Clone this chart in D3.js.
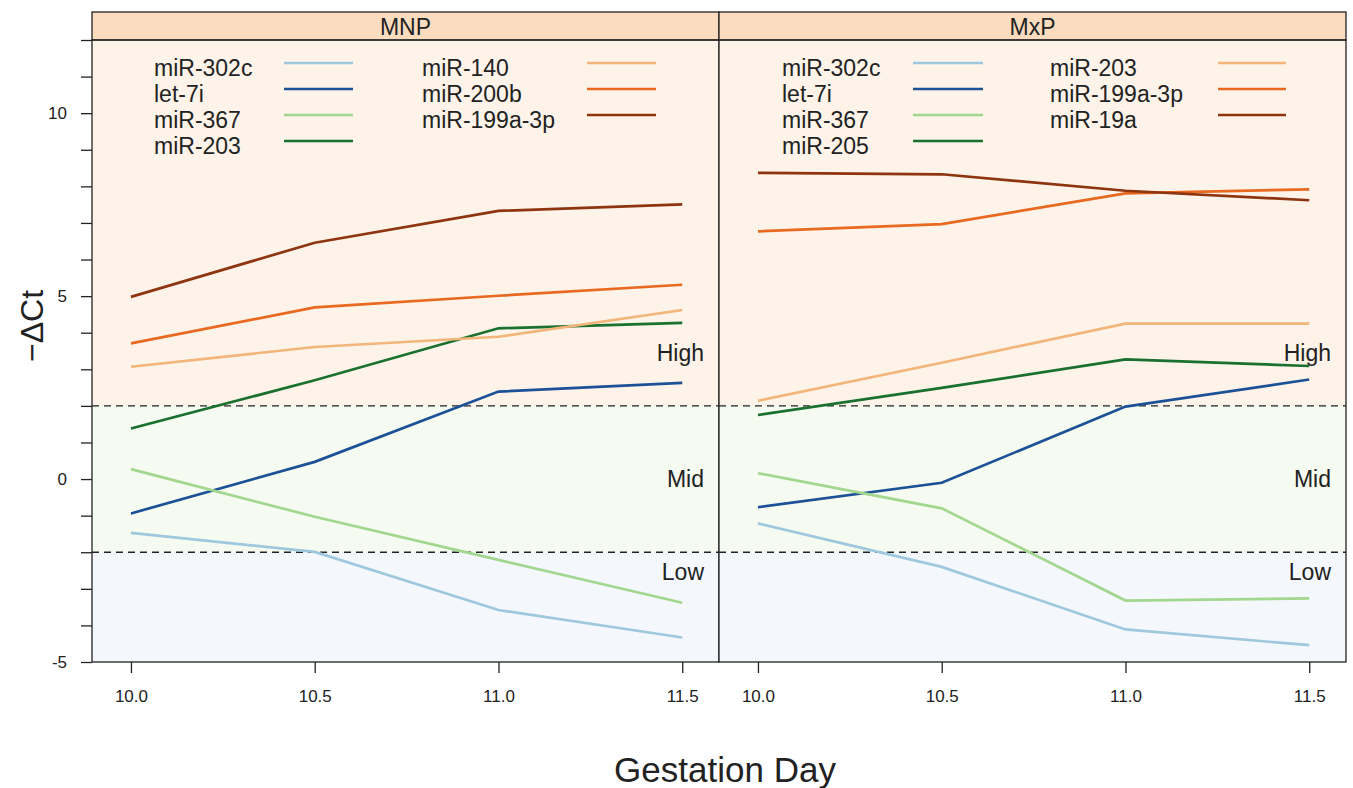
<!DOCTYPE html>
<html>
<head>
<meta charset="utf-8">
<script src="https://cdn.jsdelivr.net/npm/d3@7"></script>
<style>
  body { margin: 0; background: #fff; }
  svg { display: block; font-family: "Liberation Sans", Arial, sans-serif; }
</style>
</head>
<body>
<svg id="chart" width="1353" height="788"></svg>
<script>
// gestation days on the x axis
const days = [10.0, 10.5, 11.0, 11.5];

// panel names
const panels = ['MNP', 'MxP'];

// series per panel (-dCt at each day)
const mnpNames = ['miR-302c', 'let-7i', 'miR-367', 'miR-203', 'miR-140', 'miR-200b', 'miR-199a-3p'];
const mnpValues = [
  [-1.47, -1.99, -3.58, -4.33],
  [-0.94, 0.47, 2.39, 2.63],
  [0.27, -1.03, -2.21, -3.38],
  [1.38, 2.70, 4.12, 4.27],
  [3.07, 3.61, 3.89, 4.62],
  [3.71, 4.69, 5.01, 5.31],
  [4.98, 6.46, 7.33, 7.51]
];

const mxpNames = ['miR-302c', 'let-7i', 'miR-367', 'miR-205', 'miR-203', 'miR-199a-3p', 'miR-19a'];
const mxpValues = [
  [-1.21, -2.40, -4.11, -4.54],
  [-0.77, -0.10, 1.98, 2.72],
  [0.16, -0.80, -3.32, -3.26],
  [1.75, 2.49, 3.27, 3.09],
  [2.14, 3.18, 4.25, 4.25],
  [6.77, 6.97, 7.81, 7.92],
  [8.37, 8.33, 7.88, 7.62]
];

// same colour order in both panels
const seriesColors = ['#9fc8df', '#1d5197', '#a3d68f', '#19702f', '#f2b57a', '#e8691f', '#8e3510'];

// expression bands
const bandNames = ['High', 'Mid', 'Low'];
const bandEdges = [12, 2, -2, -5];
const bandColors = ['#fdf3e9', '#f5fbf0', '#f4f8fc'];

const yTicks = d3.range(-5, 13, 1);
const yLabels = [-5, 0, 5, 10];

const svg = d3.select('#chart');

const stripTop = 12;
const stripH = 28;
const plotTop = stripTop + stripH;
const plotBottom = 662;
const panelLeft = 92;
const panelW = 627;
const ink = '#222';

const y = d3.scaleLinear()
  .domain([-5, 12])
  .range([plotBottom, plotTop]);

const panelData = [
  { name: panels[0], names: mnpNames, values: mnpValues },
  { name: panels[1], names: mxpNames, values: mxpValues }
];

const line = d3.line()
  .x(d => d.x)
  .y(d => d.y);

panelData.forEach((p, pi) => {
  const x0 = panelLeft + pi * panelW;
  const x = d3.scaleLinear()
    .domain([9.894, 11.6])
    .range([x0, x0 + panelW]);

  const g = svg.append('g');

  // background bands
  bandNames.forEach((b, i) => {
    g.append('rect')
      .attr('x', x0)
      .attr('width', panelW)
      .attr('y', y(bandEdges[i]))
      .attr('height', y(bandEdges[i + 1]) - y(bandEdges[i]))
      .attr('fill', bandColors[i]);
  });

  // dashed band borders
  [bandEdges[1], bandEdges[2]].forEach(v => {
    g.append('line')
      .attr('x1', x0)
      .attr('x2', x0 + panelW)
      .attr('y1', y(v))
      .attr('y2', y(v))
      .attr('stroke', ink)
      .attr('stroke-width', 1.3)
      .attr('stroke-dasharray', '7,5');
  });

  // band labels on the right
  const bandLabelY = [bandEdges[1] + 1.45, 0, bandEdges[2] - 0.55];
  bandNames.forEach((b, i) => {
    g.append('text')
      .attr('x', x0 + panelW - 15)
      .attr('y', y(bandLabelY[i]))
      .attr('dy', '0.35em')
      .attr('text-anchor', 'end')
      .attr('font-size', 23)
      .attr('fill', ink)
      .text(b);
  });

  // series lines
  p.values.forEach((vals, si) => {
    const pts = vals.map((v, k) => ({ x: x(days[k]), y: y(v) }));
    g.append('path')
      .attr('d', line(pts))
      .attr('fill', 'none')
      .attr('stroke', seriesColors[si])
      .attr('stroke-width', 2.7);
  });

  // legend: two columns
  const legCols = pi === 0
    ? [{ tx: 154, lx: 284, lw: 69 }, { tx: 422, lx: 587, lw: 69 }]
    : [{ tx: 782, lx: 913, lw: 70 }, { tx: 1050, lx: 1218, lw: 68 }];
  p.names.forEach((n, si) => {
    const col = si < 4 ? 0 : 1;
    const row = si < 4 ? si : si - 4;
    const ly = 63 + row * 26;
    const c = legCols[col];
    g.append('text')
      .attr('x', c.tx)
      .attr('y', ly + 5)
      .attr('dy', '0.35em')
      .attr('font-size', 23)
      .attr('fill', ink)
      .text(n);
    g.append('line')
      .attr('x1', c.lx)
      .attr('x2', c.lx + c.lw)
      .attr('y1', ly)
      .attr('y2', ly)
      .attr('stroke', seriesColors[si])
      .attr('stroke-width', 2.7);
  });

  // strip
  g.append('rect')
    .attr('x', x0)
    .attr('y', stripTop)
    .attr('width', panelW)
    .attr('height', stripH)
    .attr('fill', '#fcdcbf')
    .attr('stroke', ink)
    .attr('stroke-width', 1.3);
  g.append('text')
    .attr('x', x0 + panelW / 2)
    .attr('y', stripTop + stripH / 2 + 1)
    .attr('dy', '0.35em')
    .attr('text-anchor', 'middle')
    .attr('font-size', 23)
    .attr('fill', ink)
    .text(p.name);

  // panel border
  g.append('rect')
    .attr('x', x0)
    .attr('y', plotTop)
    .attr('width', panelW)
    .attr('height', plotBottom - plotTop)
    .attr('fill', 'none')
    .attr('stroke', ink)
    .attr('stroke-width', 1.3);

  // x axis
  const xAxis = d3.axisBottom(x)
    .tickValues(days)
    .tickFormat(d3.format('.1f'))
    .tickSize(11);
  const ax = g.append('g')
    .attr('transform', `translate(0,${plotBottom})`)
    .call(xAxis);
  ax.select('.domain').remove();
  ax.selectAll('line').attr('stroke', ink).attr('stroke-width', 1.3);
  ax.selectAll('text')
    .attr('y', 34)
    .attr('dy', '0.35em')
    .attr('font-size', 17)
    .attr('fill', ink)
    .attr('font-family', '"Liberation Sans", Arial, sans-serif');
});

// y axis on the left panel
const yAxis = d3.axisLeft(y)
  .tickValues(yTicks)
  .tickFormat(d => yLabels.includes(d) ? d : '')
  .tickSize(11)
  .tickPadding(14);
const ay = svg.append('g')
  .attr('transform', `translate(${panelLeft},0)`)
  .call(yAxis);
ay.select('.domain').remove();
ay.selectAll('line').attr('stroke', ink).attr('stroke-width', 1.3);
ay.selectAll('text')
  .attr('font-size', 17)
  .attr('fill', ink)
  .attr('font-family', '"Liberation Sans", Arial, sans-serif');

// axis titles
svg.append('text')
  .attr('transform', 'translate(32,326) rotate(-90)')
  .attr('text-anchor', 'middle')
  .attr('dy', '0.35em')
  .attr('font-size', 32)
  .attr('fill', ink)
  .text('\u2212\u0394Ct');

svg.append('text')
  .attr('x', 725)
  .attr('y', 770)
  .attr('dy', '0.35em')
  .attr('text-anchor', 'middle')
  .attr('font-size', 35)
  .attr('fill', ink)
  .text('Gestation Day');
</script>
</body>
</html>
